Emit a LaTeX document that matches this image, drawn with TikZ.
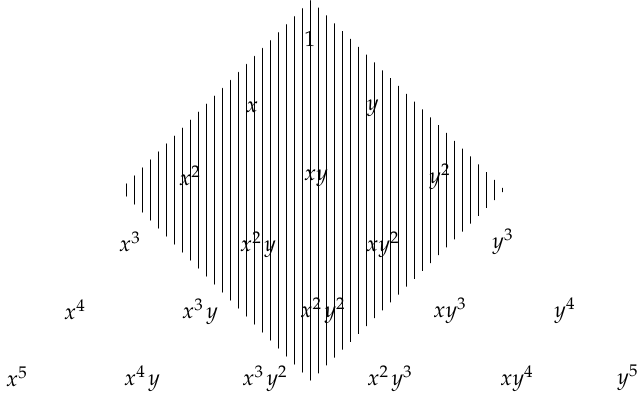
\documentclass[tikz,border=0pt]{standalone}
\usepackage{mathpazo}
\usepackage{tikz}

\tikzset{
  mono/.style={inner sep=0pt},
  hatch/.style={line width=0.45pt}
}
\newcommand{\gp}{\mkern2mu}

\begin{document}
\begin{tikzpicture}[x=0.45pt,y=-0.45pt]
    \useasboundingbox (0,0) rectangle (638,396);

    % Hatched diamond
    \begin{scope}
        \clip (311,0) -- (505,190) -- (311,381) -- (120,190) -- cycle;
        \foreach \k in {0,...,47}
            \draw[hatch] ({126.7+8*\k},0) -- ++(0,396);
    \end{scope}

    % Row 0 and 1
    \node[mono] (one) at (310,39) {$1$};
    \node[mono] (x) at (252,107) {$x$};
    \node[mono] (y) at (373,108) {$y$};

    % Row 2
    \node[mono] (x2) at (190,176) {$x^2$};
    \node[mono] (xy) at (316,178) {$xy$};
    \node[mono] (y2) at (440,177) {$y^2$};

    % Row 3
    \node[mono] (x3) at (130,242) {$x^3$};
    \node[mono] (x2y) at (258,245) {$x^2\gp y$};
    \node[mono] (xy2) at (383,245) {$xy^2$};
    \node[mono] (y3) at (503,242) {$y^3$};

    % Row 4
    \node[mono] (x4) at (75,310) {$x^4$};
    \node[mono] (x3y) at (200,312) {$x^3\gp y$};
    \node[mono] (x2y2) at (323,311) {$x^2\gp y^2$};
    \node[mono] (xy3) at (450,311) {$xy^3$};
    \node[mono] (y4) at (565,311) {$y^4$};

    % Row 5
    \node[mono] (x5) at (17,377) {$x^5$};
    \node[mono] (x4y) at (142,379) {$x^4\gp y$};
    \node[mono] (x3y2) at (265,379) {$x^3\gp y^2$};
    \node[mono] (x2y3) at (390,379) {$x^2\gp y^3$};
    \node[mono] (xy4) at (517,379) {$xy^4$};
    \node[mono] (y5) at (628,378) {$y^5$};

\end{tikzpicture}
\end{document}
